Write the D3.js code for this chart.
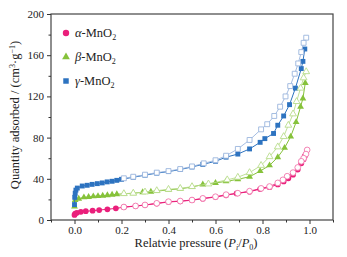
<!DOCTYPE html>
<html>
<head>
<meta charset="utf-8">
<script src="https://cdn.jsdelivr.net/npm/d3@7"></script>
<style>
  body { margin: 0; background: #fff; }
  svg { display: block; font-family: "Liberation Serif", "DejaVu Serif", serif; }
  .axis path, .axis line { stroke: #333; }
  .axis text { font-family: "Liberation Serif", serif; font-size: 11px; fill: #222; }
</style>
</head>
<body>
<div id="chart"></div>
<script>
// Isothermes N2 : adsorption (plein) / désorption (vide)
const xTicks = [0.0, 0.2, 0.4, 0.6, 0.8, 1.0];
const yTicks = [0, 40, 80, 120, 160, 200];

const alphaAdsP = [0.0, 0.003, 0.01, 0.027, 0.048, 0.077, 0.105, 0.14, 0.176, 0.21, 0.26, 0.30, 0.35, 0.40, 0.45, 0.50, 0.546, 0.60, 0.645, 0.69, 0.745, 0.79, 0.83, 0.865, 0.89, 0.91, 0.93, 0.95, 0.965, 0.975, 0.98];
const alphaAdsV = [4.9, 6.2, 7, 8, 8.5, 9, 9.7, 10.4, 11.3, 12.4, 13.5, 14.5, 16, 17.5, 18.2, 19.2, 20.7, 22.3, 24, 25.8, 27.5, 30, 31.8, 34.5, 37.5, 40.5, 44, 49, 55, 59, 62];
const alphaDesP = [0.99, 0.985, 0.975, 0.965, 0.95, 0.93, 0.905, 0.887, 0.865, 0.83, 0.794, 0.745, 0.695, 0.645, 0.60, 0.546, 0.50, 0.45, 0.40, 0.35, 0.30, 0.26, 0.21];
const alphaDesV = [68, 64, 60, 57, 51, 46, 42.5, 39, 36, 32.5, 30.7, 28, 26, 24.6, 22.6, 21, 19.4, 18.4, 17.8, 16.2, 14.6, 13.6, 12.6];

const betaAdsP = [0.0, 0.003, 0.018, 0.04, 0.06, 0.08, 0.10, 0.12, 0.14, 0.16, 0.18, 0.21, 0.25, 0.29, 0.325, 0.35, 0.40, 0.45, 0.50, 0.546, 0.60, 0.645, 0.695, 0.745, 0.79, 0.83, 0.865, 0.894, 0.92, 0.943, 0.962, 0.972, 0.982];
const betaAdsV = [13, 19.4, 20.7, 22, 22.3, 23, 23.2, 23.6, 24, 24.5, 25, 25.4, 26, 27, 27.5, 28, 29.3, 30.3, 32, 34.5, 36, 37.5, 39.5, 42, 47.5, 53, 61, 70, 81, 95, 110, 118, 133];
const betaDesP = [0.986, 0.975, 0.962, 0.945, 0.93, 0.91, 0.89, 0.865, 0.83, 0.794, 0.745, 0.695, 0.65, 0.57, 0.50, 0.45, 0.40, 0.35, 0.30, 0.25, 0.21];
const betaDesV = [144, 138, 128, 115, 103, 92, 81, 71, 61.5, 53, 46, 41.5, 39, 35, 32.4, 30.7, 29.8, 28.5, 27.2, 26, 25.6];

const gammaAdsP = [0.0, 0.001, 0.003, 0.006, 0.012, 0.033, 0.054, 0.075, 0.097, 0.118, 0.139, 0.16, 0.18, 0.2, 0.25, 0.30, 0.35, 0.40, 0.45, 0.50, 0.546, 0.60, 0.645, 0.695, 0.745, 0.79, 0.81, 0.847, 0.865, 0.89, 0.915, 0.94, 0.965, 0.972, 0.98];
const gammaAdsV = [15, 22, 26, 29, 31, 33, 33.7, 34.6, 35.3, 36, 37, 37.6, 38.5, 39.5, 41.5, 43.5, 45.5, 47, 49, 51.5, 54, 57, 61, 64, 69, 75.4, 79, 84, 92, 101, 112, 128, 147, 154, 166];
const gammaDesP = [0.986, 0.975, 0.965, 0.952, 0.937, 0.918, 0.898, 0.875, 0.85, 0.82, 0.794, 0.745, 0.695, 0.645, 0.60, 0.55, 0.50, 0.45, 0.40, 0.35, 0.30, 0.25, 0.21];
const gammaDesV = [177, 172, 163, 152, 142, 130, 120, 110, 101, 93, 88, 77.7, 69, 62.4, 58, 55, 52, 49.5, 47.5, 46, 44, 42, 40.5];

const seriesNames = ["α", "β", "γ"];

function createChart() {
    const margin = { top: 14, right: 14, bottom: 37, left: 51 };
    const totalW = 347, totalH = 257;
    const width = totalW - margin.left - margin.right;
    const height = totalH - margin.top - margin.bottom;

    const svg = d3.select("#chart").append("svg")
        .attr("width", totalW)
        .attr("height", totalH)
        .append("g")
        .attr("transform", `translate(${margin.left},${margin.top})`);

    const x = d3.scaleLinear().domain([-0.1, 1.1]).range([0, width]);
    const y = d3.scaleLinear().domain([0, 200]).range([height, 0]);

    const series = [
        { name: seriesNames[0], shape: d3.symbolCircle, size: 26, color: "#ea1f7b", light: "#f277ad", lineDes: "#ea1f7b",
          ads: alphaAdsP.map((p, i) => [p, alphaAdsV[i]]), des: alphaDesP.map((p, i) => [p, alphaDesV[i]]) },
        { name: seriesNames[1], shape: d3.symbolTriangle, size: 20, color: "#86c23a", light: "#b9dc8c", lineDes: "#b9dc8c",
          ads: betaAdsP.map((p, i) => [p, betaAdsV[i]]), des: betaDesP.map((p, i) => [p, betaDesV[i]]) },
        { name: seriesNames[2], shape: d3.symbolSquare, size: 24, color: "#2d73c0", light: "#9bb6de", lineDes: "#9bb6de",
          ads: gammaAdsP.map((p, i) => [p, gammaAdsV[i]]), des: gammaDesP.map((p, i) => [p, gammaDesV[i]]) }
    ];

    // Cadre
    svg.append("rect")
        .attr("width", width).attr("height", height)
        .attr("fill", "none").attr("stroke", "#444").attr("stroke-width", 1.2);

    // Axes
    svg.append("g")
        .attr("class", "axis")
        .attr("transform", `translate(0,${height})`)
        .call(d3.axisBottom(x).tickValues(xTicks).tickFormat(d3.format(".1f")).tickSize(4).tickPadding(2).tickSizeOuter(0))
        .call(g => g.select(".domain").remove());
    svg.append("g")
        .attr("class", "axis")
        .attr("transform", `translate(0,${height})`)
        .call(d3.axisBottom(x).tickValues([-0.1, 0.1, 0.3, 0.5, 0.7, 0.9, 1.1]).tickFormat("").tickSize(2.5).tickSizeOuter(0))
        .call(g => g.select(".domain").remove());

    svg.append("g")
        .attr("class", "axis")
        .call(d3.axisLeft(y).tickValues(yTicks).tickSize(4).tickSizeOuter(0))
        .call(g => g.select(".domain").remove());
    svg.append("g")
        .attr("class", "axis")
        .call(d3.axisLeft(y).tickValues([20, 60, 100, 140, 180]).tickFormat("").tickSize(2.5).tickSizeOuter(0))
        .call(g => g.select(".domain").remove());

    const line = d3.line().x(d => x(d[0])).y(d => y(d[1]));

    series.forEach(s => {
        // adsorption : ligne + symboles pleins
        svg.append("path")
            .attr("d", line(s.ads))
            .attr("fill", "none")
            .attr("stroke", s.color)
            .attr("stroke-width", 1);
        svg.selectAll(null)
            .data(s.ads)
            .enter().append("path")
            .attr("transform", d => `translate(${x(d[0])},${y(d[1])})`)
            .attr("d", d3.symbol().type(s.shape).size(s.size))
            .attr("fill", s.color);
    });

    series.forEach(s => {
        // désorption : ligne claire + symboles vides
        svg.append("path")
            .attr("d", line(s.des))
            .attr("fill", "none")
            .attr("stroke", s.lineDes)
            .attr("stroke-width", 0.9);
        svg.selectAll(null)
            .data(s.des)
            .enter().append("path")
            .attr("transform", d => `translate(${x(d[0])},${y(d[1])})`)
            .attr("d", d3.symbol().type(s.shape).size(s.size))
            .attr("fill", "#fff")
            .attr("stroke", s.light)
            .attr("stroke-width", 0.9);
    });

    // Légende
    const legend = svg.append("g").attr("transform", "translate(15, 19)");
    const items = legend.selectAll("g")
        .data(series)
        .enter().append("g")
        .attr("transform", (d, i) => `translate(0, ${i * 24})`);
    items.append("path")
        .attr("d", d => d3.symbol().type(d.shape).size(d.size + 6)())
        .attr("fill", d => d.color);
    const lt = items.append("text")
        .attr("x", 9)
        .attr("y", 4)
        .style("font-size", "12.5px")
        .attr("fill", "#222");
    lt.append("tspan").style("font-style", "italic").text(d => d.name);
    lt.append("tspan").text("-MnO");
    lt.append("tspan").attr("dy", 3).style("font-size", "8px").text("2");

    // Titres des axes
    const xl = svg.append("text")
        .attr("x", width / 2 + 4)
        .attr("y", height + 27)
        .attr("text-anchor", "middle")
        .style("font-size", "12.5px")
        .attr("fill", "#222");
    xl.append("tspan").text("Relatvie pressure (");
    xl.append("tspan").style("font-style", "italic").text("P");
    xl.append("tspan").attr("dy", 3).style("font-size", "8px").style("font-style", "italic").text("i");
    xl.append("tspan").attr("dy", -3).text("/");
    xl.append("tspan").style("font-style", "italic").text("P");
    xl.append("tspan").attr("dy", 3).style("font-size", "8px").text("0");
    xl.append("tspan").attr("dy", -3).text(")");

    const yl = svg.append("text")
        .attr("transform", "rotate(-90)")
        .attr("x", -height / 2 + 2)
        .attr("y", -32)
        .attr("text-anchor", "middle")
        .style("font-size", "12.5px")
        .attr("fill", "#222");
    yl.append("tspan").text("Quantity adsorbed / (cm");
    yl.append("tspan").attr("dy", -4).style("font-size", "8px").text("3");
    yl.append("tspan").attr("dy", 4).text("·g");
    yl.append("tspan").attr("dy", -4).style("font-size", "8px").text("−1");
    yl.append("tspan").attr("dy", 4).text(")");
}

createChart();
</script>
</body>
</html>
